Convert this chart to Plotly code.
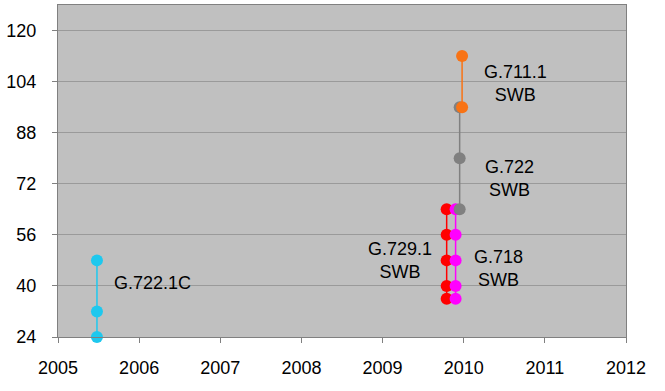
import plotly.graph_objects as go

# Data
cyan_x = [2005.48, 2005.48, 2005.48]
cyan_y = [48, 32, 24]
red_x = [2009.79] * 5
red_y = [64, 56, 48, 40, 36]
mag_x = [2009.9] * 5
mag_y = [64, 56, 48, 40, 36]
gray_x = [2009.95] * 3
gray_y = [96, 80, 64]
orange_x = [2009.98] * 2
orange_y = [112, 96]

labels = ["G.722.1C", "G.729.1<br>SWB", "G.718<br>SWB", "G.722<br>SWB", "G.711.1<br>SWB"]
label_x = [2005.67, 2009.22, 2010.43, 2010.57, 2010.64]
label_y = [40.9, 48, 45.6, 73.7, 103.4]
label_anchor = ["left", "center", "center", "center", "center"]

x_ticks = [2005, 2006, 2007, 2008, 2009, 2010, 2011, 2012]
y_ticks = [24, 40, 56, 72, 88, 104, 120]

fig = go.Figure()
series = [
    (cyan_x, cyan_y, "#1EC8EE"),
    (red_x, red_y, "#FF0000"),
    (mag_x, mag_y, "#FF00FF"),
    (gray_x, gray_y, "#808080"),
    (orange_x, orange_y, "#F87315"),
]
for xs, ys, c in series:
    fig.add_trace(go.Scatter(x=xs, y=ys, mode="lines+markers",
                             line=dict(color=c, width=1.5),
                             marker=dict(color=c, size=12),
                             cliponaxis=False, showlegend=False))

for t, x, y, a in zip(labels, label_x, label_y, label_anchor):
    fig.add_annotation(x=x, y=y, text=t, showarrow=False, xref="x", yref="y",
                       xanchor=a,
                       font=dict(family="Liberation Sans, Arial", size=18, color="#000"),
                       align="center")

fig.update_layout(
    width=665, height=391,
    margin=dict(l=58, r=39, t=5, b=54),
    paper_bgcolor="white", plot_bgcolor="#C0C0C0",
    font=dict(family="Liberation Sans, Arial", size=18, color="#000"),
    showlegend=False,
)
fig.update_xaxes(range=[2005, 2012], tickvals=x_ticks, ticks="outside", ticklen=5,
                 tickcolor="#808080", showgrid=False, showline=True, linecolor="#808080",
                 linewidth=1, mirror=True, zeroline=False, ticklabelstandoff=9)
fig.update_yaxes(range=[24, 128], tickvals=y_ticks, ticks="outside", ticklen=5,
                 tickcolor="#808080", showgrid=True, gridcolor="#9A9A9A", gridwidth=1,
                 showline=True, linecolor="#808080", linewidth=1, mirror=True,
                 zeroline=False, ticklabelstandoff=12)

fig.write_html("out.html", config={"displayModeBar": False},
               post_script="document.body.style.margin='0';")
